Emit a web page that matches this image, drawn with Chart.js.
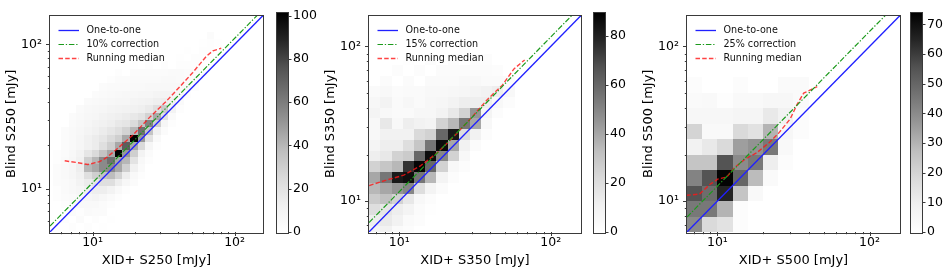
<!DOCTYPE html>
<html><head><meta charset="utf-8">
<script src="https://cdn.jsdelivr.net/npm/chart.js@4.4.1/dist/chart.umd.min.js"></script>
<style>
body{margin:0;background:#fff;width:952px;height:273px;position:relative;overflow:hidden}
canvas{position:absolute;top:0}
</style></head>
<body>
<canvas id="m0"></canvas><canvas id="c0"></canvas>
<canvas id="m1"></canvas><canvas id="c1"></canvas>
<canvas id="m2"></canvas><canvas id="c2"></canvas>
<script>
// ---------------- data ----------------
const xTitles = ['XID+ S250 [mJy]', 'XID+ S350 [mJy]', 'XID+ S500 [mJy]'];
const yTitles = ['Blind S250 [mJy]', 'Blind S350 [mJy]', 'Blind S500 [mJy]'];
const oneToOneLabel = 'One-to-one';
const medianLabel = 'Running median';
const corrLabels = ['10% correction', '15% correction', '25% correction'];
const corrFactors = [1.10, 1.15, 1.25];
const axisMin = [5.01, 6.31, 6.31];
const axisMax = [158.5, 158.5, 158.5];
const majorTicks = [10, 100];
const majorTickLabels = ['10\u00b9', '10\u00b2'];
const minorTicks = [2, 3, 4, 5, 6, 7, 8, 9, 20, 30, 40, 50, 60, 70, 80, 90];
const cbMax = [101.5, 89.5, 74];
const cbStep = [20, 20, 10];

// running medians (mJy)
const median250X = [6.36, 7.67, 9.26, 11.2, 12.5, 14.7, 19.2, 25.2, 33.0, 41.0, 50.8, 63.2, 70.3, 80.5];
const median250Y = [15.6, 15.2, 14.7, 15.4, 16.4, 18.7, 23.5, 31.2, 40.3, 50.7, 63.9, 82.6, 90.2, 94.0];
const median350X = [6.33, 8.3, 10.7, 13.8, 17.8, 22.9, 29.5, 38.1, 47.9, 57.2, 67.3];
const median350Y = [12.6, 13.7, 14.7, 16.9, 20.5, 26.1, 34.0, 45.3, 56.2, 71.5, 81.8];
const median500X = [6.24, 7.64, 8.9, 10.1, 11.5, 13.0, 15.2, 18.1, 21.7, 25.2, 30.1, 33.4, 36.9, 45.3];
const median500Y = [10.9, 11.1, 12.8, 13.9, 14.3, 16.5, 18.7, 20.5, 23.7, 27.4, 34.0, 42.2, 49.9, 55.0];

// 2D histogram bins: [log10 x start, log10 x width, log10 y start, log10 y width]
const hist250Grid = [0.723, 0.054, 0.71, 0.051];
const hist350Grid = [0.802, 0.0738, 0.771, 0.0694];
const hist500Grid = [0.8, 0.1, 0.8, 0.1];
// rows: [y bin, first x bin, counts...]
const hist250Rows = [
  [0, 2, 2,0,2,0,1],
  [1, 1, 2,0,3,0,2,0,1],
  [2, 2, 3,2,4,3,3],
  [3, 1, 2,3,5,5,5,3,2],
  [4, 0, 2,3,4,6,8,9,7,4,2],
  [5, 0, 2,4,6,8,12,14,14,10,5,2],
  [6, 0, 3,4,6,10,15,18,22,22,14,7,3],
  [7, 0, 3,5,8,12,22,30,35,38,28,14,5,2],
  [8, 0, 3,5,8,14,40,45,55,55,45,30,12,4],
  [9, 0, 2,4,7,12,30,40,55,65,45,40,20,6,2],
  [10, 0, 2,3,6,10,18,25,35,45,100,50,30,10,3],
  [11, 1, 3,5,8,12,15,22,30,45,72,45,25,8,2],
  [12, 1, 3,5,8,12,15,18,24,30,45,100,50,20,5],
  [13, 1, 3,5,7,9,12,15,18,22,28,40,65,35,12,3],
  [14, 2, 4,6,8,10,12,14,17,19,24,35,58,30,8,2],
  [15, 2, 3,5,7,8,10,12,13,15,17,20,28,45,20,4],
  [16, 3, 4,6,7,8,9,10,11,12,13,16,22,32,10,2],
  [17, 4, 4,5,6,7,8,8,9,10,11,13,14,12,4],
  [18, 5, 3,4,5,6,7,7,8,8,9,9,9,7,2],
  [19, 6, 3,4,4,4,5,5,6,6,6,6,6,5,2],
  [20, 7, 2,3,3,4,4,4,4,5,5,4,4,3],
  [21, 8, 2,0,3,3,3,3,3,4,4,3,3,2],
  [22, 10, 1,0,2,0,2,0,2,2,2,1],
  [23, 13, 1,0,0,1,0,2,2,1],
  [24, 17, 1,0,2,2],
  [25, 19, 1,2,1],
  [26, 20, 3]
];
const hist350Rows = [
  [0, 0, 8,10,4,2],
  [1, 0, 12,14,10,4,2],
  [2, 0, 20,16,12,8,3,1],
  [3, 0, 28,32,25,15,5,2],
  [4, 0, 35,40,45,50,20,8,3],
  [5, 0, 40,55,82,85,55,35,8,2],
  [6, 0, 25,30,35,75,88,60,25,5,2],
  [7, 0, 12,15,25,28,60,86,50,25,5],
  [8, 0, 8,12,12,20,30,55,86,40,10,3],
  [9, 0, 5,10,10,10,22,25,60,82,20,10,2],
  [10, 0, 5,15,5,12,10,8,25,35,55,40,5],
  [11, 0, 8,5,4,4,6,6,9,15,25,45,8,2],
  [12, 0, 6,9,4,6,4,6,7,9,12,12,12,5,2],
  [13, 0, 4,5,3,4,4,5,5,6,7,8,10,12,5],
  [14, 1, 3,0,3,0,4,4,4,5,5,4,4,3],
  [15, 2, 2,0,2,0,3,3,3,3,3,2],
  [16, 3, 1,0,2,0,2,0,2,2],
  [17, 6, 1,0,1]
];
const hist500Rows = [
  [0, 0, 40,18,15,2],
  [1, 0, 45,45,30,2],
  [2, 0, 55,48,65,25,4],
  [3, 0, 42,55,73,50,28,3],
  [4, 0, 25,25,55,40,45,10,2],
  [5, 0, 8,12,18,35,38,45,4],
  [6, 0, 20,4,4,18,15,30,5,2],
  [7, 0, 5,5,5,6,6,12,8,2],
  [8, 0, 3,4,1,4,4,5,5,3],
  [9, 0, 2,0,0,2,0,0,3,3]
];

// ---------------- style / layout ----------------
const FONT = 'DejaVu Sans';
const greysStops = ['#ffffff','#f0f0f0','#d9d9d9','#bdbdbd','#969696','#737373','#525252','#252525','#000000'];
const plotLeft = [50, 369, 687];
const plotRight = [263, 581, 900];
const cbLeft = [277, 594, 911];
const CB_W = 11;
const PLOT_TOP = 7, PLOT_BOTTOM = 232, H = 273;
const FRAME = '#3a3a3a';

function greyVal(h){ return parseInt(h.slice(1,3),16); }
function greys(t){
  t = Math.max(0, Math.min(1, t));
  const p = t * 8, k = Math.min(7, Math.floor(p)), f = p - k;
  const a = greyVal(greysStops[k]), b = greyVal(greysStops[k+1]);
  const g = Math.round(a + (b - a) * f);
  return 'rgb(' + g + ',' + g + ',' + g + ')';
}

const panels = [
  {grid: hist250Grid, rows: hist250Rows, mx: median250X, my: median250Y},
  {grid: hist350Grid, rows: hist350Rows, mx: median350X, my: median350Y},
  {grid: hist500Grid, rows: hist500Rows, mx: median500X, my: median500Y}
];

function heatPlugin(k){
  const P = panels[k];
  return {
    id: 'heat' + k,
    beforeDatasetsDraw(chart){
      const ctx = chart.ctx, xs = chart.scales.x, ys = chart.scales.y, a = chart.chartArea;
      const [x0, dx, y0, dy] = P.grid;
      ctx.save();
      ctx.beginPath(); ctx.rect(a.left, a.top, a.right - a.left, a.bottom - a.top); ctx.clip();
      P.rows.forEach(r => {
        const j = r[0], i0 = r[1];
        for (let n = 2; n < r.length; n++) {
          const v = r[n]; if (!v) continue;
          const i = i0 + n - 2;
          const L = Math.round(xs.getPixelForValue(Math.pow(10, x0 + i * dx)));
          const R = Math.round(xs.getPixelForValue(Math.pow(10, x0 + (i + 1) * dx)));
          const B = Math.round(ys.getPixelForValue(Math.pow(10, y0 + j * dy)));
          const T = Math.round(ys.getPixelForValue(Math.pow(10, y0 + (j + 1) * dy)));
          ctx.fillStyle = greys(v / cbMax[k]);
          ctx.fillRect(L, T, R - L, B - T);
        }
      });
      ctx.restore();
    }
  };
}

const framePlugin = {
  id: 'frame',
  afterDraw(chart){
    const ctx = chart.ctx, a = chart.chartArea;
    ctx.save();
    ctx.strokeStyle = FRAME; ctx.lineWidth = 1;
    ctx.strokeRect(Math.round(a.left) - 0.5, Math.round(a.top) - 0.5, Math.round(a.right - a.left) + 1, Math.round(a.bottom - a.top) + 1);
    ctx.restore();
  }
};

const logTickPlugin = {
  id: 'logticks',
  afterDraw(chart){
    const ctx = chart.ctx, a = chart.chartArea, xs = chart.scales.x, ys = chart.scales.y;
    ctx.save(); ctx.strokeStyle = FRAME; ctx.lineWidth = 1;
    const all = majorTicks.map(v => [v, 4]).concat(minorTicks.map(v => [v, 2.2]));
    all.forEach(([v, len]) => {
      if (v >= xs.min && v <= xs.max) {
        const px = Math.round(xs.getPixelForValue(v)) + 0.5;
        ctx.beginPath(); ctx.moveTo(px, a.bottom); ctx.lineTo(px, a.bottom + len); ctx.stroke();
      }
      if (v >= ys.min && v <= ys.max) {
        const py = Math.round(ys.getPixelForValue(v)) + 0.5;
        ctx.beginPath(); ctx.moveTo(a.left, py); ctx.lineTo(a.left - len, py); ctx.stroke();
      }
    });
    ctx.restore();
  }
};

const legendPlugin = {
  id: 'insideLegend',
  afterDatasetsDraw(chart){
    const ctx = chart.ctx, a = chart.chartArea;
    ctx.save();
    chart.data.datasets.forEach((ds, n) => {
      const y = Math.round(a.top + 14 + n * 14.2) + 0.5;
      ctx.strokeStyle = ds.borderColor; ctx.lineWidth = ds.borderWidth;
      ctx.setLineDash(ds.borderDash || []);
      ctx.beginPath(); ctx.moveTo(a.left + 8.5, y); ctx.lineTo(a.left + 29, y); ctx.stroke();
      ctx.setLineDash([]);
      ctx.fillStyle = '#111'; ctx.font = '9.6px "' + FONT + '"'; ctx.textBaseline = 'middle';
      ctx.fillText(ds.label, a.left + 36.5, y);
    });
    ctx.restore();
  }
};

const cbTickPlugin = {
  id: 'cbticks',
  afterDraw(chart){
    const ctx = chart.ctx, a = chart.chartArea, ys = chart.scales.y;
    ctx.save(); ctx.strokeStyle = FRAME; ctx.lineWidth = 1;
    ys.ticks.forEach(t => {
      const py = Math.round(ys.getPixelForValue(t.value)) + 0.5;
      ctx.beginPath(); ctx.moveTo(a.right, py); ctx.lineTo(a.right + 3.5, py); ctx.stroke();
    });
    ctx.restore();
  }
};

function makeMain(k){
  const P = panels[k];
  const cv = document.getElementById('m' + k);
  const w = 50 + (plotRight[k] - plotLeft[k]) + 2;
  cv.width = w; cv.height = H; cv.style.left = (plotLeft[k] - 50) + 'px';
  const lim = [axisMin[k], axisMax[k]];
  const tickFont = {family: FONT, size: 12.5};
  const titleFont = {family: FONT, size: 13};
  new Chart(cv, {
    type: 'scatter',
    data: { datasets: [
      {label: oneToOneLabel, data: lim.map(v => ({x: v, y: v})), showLine: true,
       borderColor: '#2020ff', borderWidth: 1.3, pointRadius: 0},
      {label: corrLabels[k], data: lim.map(v => ({x: v, y: v * corrFactors[k]})), showLine: true,
       borderColor: '#1c9a1c', borderWidth: 1.2, borderDash: [5.5, 1.8, 1.3, 1.8], pointRadius: 0},
      {label: medianLabel, data: P.mx.map((x, i) => ({x: x, y: P.my[i]})), showLine: true,
       borderColor: 'rgba(255,20,20,0.8)', borderWidth: 1.4, borderDash: [4.5, 2.2], pointRadius: 0}
    ]},
    options: {
      responsive: false, animation: false, devicePixelRatio: 1,
      layout: {padding: {top: PLOT_TOP, right: 2, bottom: 0, left: 0}},
      plugins: {legend: {display: false}, tooltip: {enabled: false}},
      scales: {
        x: {type: 'logarithmic', min: axisMin[k], max: axisMax[k],
            afterFit(s){ s.height = H - PLOT_BOTTOM; },
            afterBuildTicks(s){ s.ticks = majorTicks.map(v => ({value: v, major: true})); },
            ticks: {autoSkip: false, maxRotation: 0, padding: 3, color: '#000', font: tickFont,
                    callback: v => majorTickLabels[majorTicks.indexOf(v)] || ''},
            grid: {display: false, drawTicks: false}, border: {display: false},
            title: {display: true, text: xTitles[k], color: '#000', font: titleFont, padding: {top: 0, bottom: 5}}},
        y: {type: 'logarithmic', min: axisMin[k], max: axisMax[k],
            afterFit(s){ s.width = 50; },
            afterBuildTicks(s){ s.ticks = majorTicks.map(v => ({value: v, major: true})); },
            ticks: {autoSkip: false, padding: 8, color: '#000', font: tickFont,
                    callback: v => majorTickLabels[majorTicks.indexOf(v)] || ''},
            grid: {display: false, drawTicks: false}, border: {display: false},
            title: {display: true, text: yTitles[k], color: '#000', font: titleFont, padding: {top: 4, bottom: 0}}}
      }
    },
    plugins: [heatPlugin(k), legendPlugin, framePlugin, logTickPlugin]
  });
}

function makeCb(k){
  const cv = document.getElementById('c' + k);
  cv.width = 5 + CB_W + 35; cv.height = H; cv.style.left = (cbLeft[k] - 5) + 'px';
  new Chart(cv, {
    type: 'bar',
    data: {labels: [''], datasets: [{data: [cbMax[k]], barPercentage: 1, categoryPercentage: 1, borderWidth: 0,
      backgroundColor(c){
        const a = c.chart.chartArea; if (!a) return '#888';
        const g = c.chart.ctx.createLinearGradient(0, a.bottom, 0, a.top);
        greysStops.forEach((s, i) => g.addColorStop(i / 8, s));
        return g;
      }}]},
    options: {
      responsive: false, animation: false, devicePixelRatio: 1,
      layout: {padding: {top: PLOT_TOP, bottom: H - PLOT_BOTTOM, left: 5, right: 0}},
      plugins: {legend: {display: false}, tooltip: {enabled: false}},
      scales: {
        x: {display: false},
        y: {position: 'right', min: 0, max: cbMax[k], afterFit(s){ s.width = 35; },
            ticks: {stepSize: cbStep[k], includeBounds: false, padding: 5, color: '#000', font: {family: FONT, size: 12.5}},
            grid: {display: false, drawTicks: false}, border: {display: false}}
      }
    },
    plugins: [framePlugin, cbTickPlugin]
  });
}

[0, 1, 2].forEach(k => { makeMain(k); makeCb(k); });
</script>
</body></html>
